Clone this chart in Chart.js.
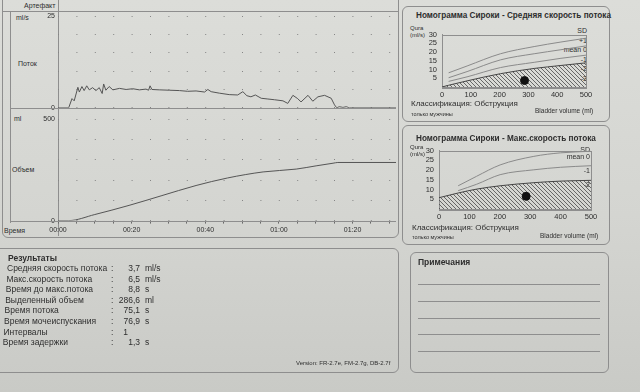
<!DOCTYPE html>
<html>
<head>
<meta charset="utf-8">
<script src="https://cdn.jsdelivr.net/npm/chart.js@4.4.0/dist/chart.umd.min.js"></script>
<style>
body{margin:0;width:640px;height:392px;overflow:hidden;position:relative;
  background:linear-gradient(#dcddd9,#d4d5d1 55%,#c9cac6);font-family:"Liberation Sans",Arial,sans-serif;color:#2e2e2e}
.t{position:absolute;white-space:nowrap;line-height:1}
.box{position:absolute;border:1px solid #8e8e8e;border-radius:6px}
.hl{position:absolute;height:0;border-top:1px solid #8e8e8e}
.vl{position:absolute;width:0;border-left:1px solid #8e8e8e}
canvas{position:absolute}
</style>
</head>
<body>

<!-- main trace panel -->
<div class="box" style="left:2px;top:-8px;width:395px;height:244px"></div>
<div class="hl" style="left:2px;top:11px;width:396px"></div>
<div class="vl" style="left:10px;top:11px;height:212px"></div>
<div class="vl" style="left:58px;top:-8px;height:244px"></div>
<div class="t" style="left:24px;top:2px;font-size:7px">Артефакт</div>
<div class="t" style="left:16px;top:14px;font-size:7px">ml/s</div>
<div class="t" style="left:18px;top:60px;font-size:7px">Поток</div>
<div class="t" style="left:14px;top:115px;font-size:7px">ml</div>
<div class="t" style="left:12px;top:166px;font-size:7px">Объем</div>
<div class="t" style="left:4px;top:227px;font-size:7px">Время</div>
<canvas id="flow" width="386" height="106" style="left:10px;top:9px"></canvas>
<canvas id="vol" width="386" height="124" style="left:10px;top:112px"></canvas>

<!-- nomogram 1 -->
<div class="box" style="left:402px;top:6px;width:206px;height:114px"></div>
<div class="t" style="left:416px;top:12px;font-size:8.2px;font-weight:bold">Номограмма Сироки - Средняя скорость потока</div>
<div class="t" style="left:410px;top:25px;font-size:6px">Qura</div>
<div class="t" style="left:410px;top:32px;font-size:6px">(ml/s)</div>
<div class="t" id="sd1" style="right:53px;top:26px;font-size:7px;text-align:right;line-height:9.5px"></div>
<canvas id="n1" width="200" height="77" style="left:402px;top:25px"></canvas>
<div class="t" style="left:411px;top:100px;font-size:8px">Классификация: Обструкция</div>
<div class="t" style="left:411px;top:112px;font-size:5.5px">только мужчины</div>
<div class="t" style="left:535px;top:108px;font-size:6.5px">Bladder volume (ml)</div>

<!-- nomogram 2 -->
<div class="box" style="left:402px;top:125px;width:206px;height:118px"></div>
<div class="t" style="left:416px;top:135px;font-size:8.2px;font-weight:bold">Номограмма Сироки - Макс.скорость потока</div>
<div class="t" style="left:410px;top:144px;font-size:6px">Qura</div>
<div class="t" style="left:410px;top:151px;font-size:6px">(ml/s)</div>
<div class="t" id="sd2" style="right:50px;top:146px;font-size:7px;text-align:right"></div>
<canvas id="n2" width="205" height="83" style="left:400px;top:141px"></canvas>
<div class="t" style="left:412px;top:224px;font-size:8px">Классификация: Обструкция</div>
<div class="t" style="left:412px;top:235px;font-size:5.5px">только мужчины</div>
<div class="t" style="left:540px;top:233px;font-size:6.5px">Bladder volume (ml)</div>

<!-- results -->
<div class="box" style="left:-6px;top:248px;width:403px;height:123px"></div>
<div class="t" style="left:8px;top:254px;font-size:8.5px;font-weight:bold">Результаты</div>
<div id="res"></div>
<div class="t" style="left:296px;top:360px;font-size:6px">Version: FR-2.7e, FM-2.7g, DB-2.7f</div>

<!-- notes -->
<div class="box" style="left:410px;top:252px;width:197px;height:119px"></div>
<div class="t" style="left:418px;top:258px;font-size:8.5px;font-weight:bold">Примечания</div>
<div class="hl" style="left:418px;top:284px;width:182px"></div>
<div class="hl" style="left:418px;top:301px;width:182px"></div>
<div class="hl" style="left:418px;top:318px;width:182px"></div>
<div class="hl" style="left:418px;top:334px;width:182px"></div>
<div class="hl" style="left:418px;top:351px;width:182px"></div>

<script>
// flow trace, seconds / ml/s
var flowT = [0, 2.9, 3.8, 4.4, 5.4, 5.8, 6.5, 7.1, 7.8, 8.5, 9.4, 10.3, 11.2, 12.0, 12.4, 13.0, 13.9, 14.9, 16.7, 18.5, 20.3, 22.1, 23.9, 24.6, 25.0, 25.5, 27.5, 30.2, 33.0, 35.2, 37.5, 39.8, 40.7, 41.6, 43.8, 46.5, 48.8, 50.2, 51.3, 52.4, 53.6, 55.2, 57.0, 58.8, 61.1, 62.4, 63.8, 65.1, 66.0, 67.9, 69.2, 70.6, 72.4, 74.2, 75.1, 75.7, 76.4, 77.4, 78.3, 79.1, 91.8];
var flowV = [0, 0, 2.5, 1.9, 5.6, 4.3, 5.8, 4.7, 6.0, 4.9, 5.5, 4.7, 5.5, 3.9, 6.5, 4.8, 5.8, 4.9, 5.3, 5.0, 5.2, 4.9, 5.1, 4.8, 6.0, 5.0, 4.9, 4.8, 4.7, 4.5, 4.6, 4.3, 5.0, 4.4, 4.0, 3.6, 3.5, 4.4, 3.3, 3.0, 3.5, 2.6, 2.4, 2.2, 1.9, 1.2, 3.4, 2.5, 1.6, 3.4, 1.8, 3.0, 3.4, 2.6, 0.8, 0, 0.3, 0.1, 0.3, 0, 0];
// volume trace, seconds / ml
var volT = [0, 2.9, 10, 19.3, 28, 37.5, 46, 55.7, 64.7, 70.1, 74.7, 76, 91.8];
var volV = [0, 0, 30, 75, 122, 173, 210, 240, 254, 270, 283, 286.6, 286.6];
var timeTicks = ['00:00', '00:20', '00:40', '01:00', '01:20'];

// Siroky nomogram, average flow (bladder volume ml / ml/s)
var avgVol = [23, 87, 203, 320, 413, 500];
var avgPlus1 = [8.1, 12, 19, 23.1, 25.7, 27.9];
var avgMean = [5.3, 8.8, 15.5, 19, 21.3, 23.5];
var avgMinus1 = [3.2, 5.8, 11.1, 14.1, 16.4, 18.2];
var avgObsVol = [0, 23, 87, 203, 320, 413, 500];
var avgMinus2 = [0, 1, 3.5, 7.6, 10.6, 12.3, 13.8];
var avgSdLabels = ['SD', '+1', 'mean 0', '-1', '-2', '-3'];

// Siroky nomogram, max flow
var maxVol = [63, 124, 201, 312, 400, 500];
var maxMean = [11.9, 16.8, 22.6, 27.0, 28.8, 29.6];
var maxMinus1 = [9.4, 12.7, 17.6, 20.1, 21.4, 22.2];
var maxObsVol = [0, 63, 124, 201, 312, 400, 500];
var maxMinus2 = [5.8, 8.2, 10.2, 11.9, 13.5, 14.3, 14.7];
var maxSdLabels = ['SD', 'mean 0', '', '-1', '', '-2'];

// patient point
var voidedVol = 286.6;
var avgFlow = 3.7;
var maxFlow = 6.5;

var resLabels = ['Средняя скорость потока', 'Макс.скорость потока', 'Время до макс.потока', 'Выделенный объем', 'Время потока', 'Время мочеиспускания', 'Интервалы', 'Время задержки'];
var resValues = ['3,7', '6,5', '8,8', '286,6', '75,1', '76,9', '1', '1,3'];
var resUnits = ['ml/s', 'ml/s', 's', 'ml', 's', 's', '', 's'];

function pts(xs, ys) {
  var out = [];
  for (var i = 0; i < xs.length; i++) out.push({x: xs[i], y: ys[i]});
  return out;
}

var html = '';
for (var i = 0; i < resLabels.length; i++) {
  var y = 264 + i * 10.6;
  html += '<div class="t" style="left:' + (7 - i * 0.6) + 'px;top:' + y + 'px;font-size:8.5px">' + resLabels[i] + '</div>';
  html += '<div class="t" style="left:111px;top:' + y + 'px;font-size:8.5px">:</div>';
  html += '<div class="t" style="left:100px;width:' + (resValues[i] === '1' ? 28 : 40) + 'px;text-align:right;top:' + y + 'px;font-size:8.5px">' + resValues[i] + '</div>';
  html += '<div class="t" style="left:145px;top:' + y + 'px;font-size:8.5px">' + resUnits[i] + '</div>';
}
document.getElementById('res').innerHTML = html;
document.getElementById('sd1').innerHTML = avgSdLabels.join('<br>');
document.getElementById('sd2').innerHTML = maxSdLabels.map(function (s) { return s || '&nbsp;'; }).join('<br>');

Chart.defaults.font.family = '"Liberation Sans", Arial, sans-serif';
Chart.defaults.color = '#2e2e2e';
Chart.defaults.animation = false;
Chart.defaults.plugins.legend.display = false;
Chart.defaults.plugins.tooltip.enabled = false;

// line across the whole canvas at the bottom of the plot
var baseLine = {
  id: 'baseLine',
  afterDraw: function (chart) {
    var c = chart.ctx, y = Math.round(chart.chartArea.bottom) + 0.5;
    c.save();
    c.strokeStyle = '#8e8e8e';
    c.lineWidth = 1;
    c.beginPath();
    c.moveTo(0, y);
    c.lineTo(chart.width, y);
    c.stroke();
    c.restore();
  }
};

var frame = {
  id: 'frame',
  beforeDatasetsDraw: function (chart) {
    var a = chart.chartArea, c = chart.ctx;
    c.save();
    c.strokeStyle = '#8e8e8e';
    c.lineWidth = 1;
    c.strokeRect(Math.round(a.left) + 0.5, Math.round(a.top) + 0.5, Math.round(a.right - a.left), Math.round(a.bottom - a.top));
    c.restore();
  }
};

function yWidth(w) { return function (s) { s.width = w; }; }

function timeLabel(v) {
  if (v % 20 !== 0) return '';
  return timeTicks[v / 20];
}

new Chart(document.getElementById('flow'), {
  type: 'line',
  data: {datasets: [{data: pts(flowT, flowV), borderColor: '#555', borderWidth: 1, pointRadius: 0, tension: 0}]},
  options: {
    responsive: false,
    layout: {padding: {top: 2, right: 0}},
    scales: {
      x: {type: 'linear', min: 0, max: 91.8, display: false},
      y: {min: 0, max: 25, afterFit: yWidth(48),
        ticks: {stepSize: 5, autoSkip: false, font: {size: 7}, padding: 3, callback: function (v) { return (v === 0 || v === 25) ? v : ''; }},
        grid: {color: '#858585', drawTicks: false}, border: {display: false, dash: [1, 17.4]}}
    }
  },
  plugins: [baseLine]
});

new Chart(document.getElementById('vol'), {
  type: 'line',
  data: {datasets: [{data: pts(volT, volV), borderColor: '#555', borderWidth: 1, pointRadius: 0, cubicInterpolationMode: 'monotone'}]},
  options: {
    responsive: false,
    layout: {padding: {top: 0, right: 0}},
    scales: {
      x: {type: 'linear', min: 0, max: 91.8,
        ticks: {stepSize: 5, includeBounds: false, autoSkip: false, maxRotation: 0, font: {size: 7}, padding: 2, callback: timeLabel},
        grid: {drawOnChartArea: false, tickLength: 3, color: '#6a6a6a'}, border: {display: false}},
      y: {min: 0, max: 500, afterFit: yWidth(48),
        ticks: {stepSize: 100, autoSkip: false, font: {size: 7}, padding: 3, callback: function (v) { return (v === 0 || v === 500) ? v : ''; }},
        grid: {color: '#858585', drawTicks: false}, border: {display: false, dash: [1, 17.4]}}
    }
  },
  plugins: [baseLine]
});

function hatch() {
  var c = document.createElement('canvas');
  c.width = c.height = 4;
  var g = c.getContext('2d');
  g.strokeStyle = '#4a4a4a';
  g.lineWidth = 0.8;
  g.beginPath();
  g.moveTo(-1, -1); g.lineTo(5, 5);
  g.moveTo(-1, 3); g.lineTo(1, 5);
  g.moveTo(3, -1); g.lineTo(5, 1);
  g.stroke();
  return g.createPattern(c, 'repeat');
}

function curve(xs, ys) {
  return {data: pts(xs, ys), borderColor: '#8a8a8a', borderWidth: 1, pointRadius: 0, cubicInterpolationMode: 'monotone', fill: false, order: 2};
}

function nomogram(id, curves, obsVol, obsFlow, px, py, yw, pad) {
  var ds = [{data: [{x: px, y: py}], showLine: false, pointRadius: 4, pointBackgroundColor: '#111', pointBorderColor: '#111', order: 0}];
  curves.forEach(function (c) { ds.push(curve(c[0], c[1])); });
  ds.push({data: pts(obsVol, obsFlow), borderColor: '#444', borderWidth: 1, pointRadius: 0, cubicInterpolationMode: 'monotone',
    fill: 'origin', backgroundColor: hatch(), order: 3});
  new Chart(document.getElementById(id), {
    type: 'line',
    data: {datasets: ds},
    options: {
      responsive: false,
      layout: {padding: pad},
      scales: {
        x: {type: 'linear', min: 0, max: 500,
          ticks: {stepSize: 100, autoSkip: false, font: {size: 7.5}, padding: 3, maxRotation: 0},
          grid: {display: false, drawTicks: false, tickLength: 0}, border: {color: '#8e8e8e'}},
        y: {min: 0, max: 30, afterFit: yWidth(yw),
          ticks: {stepSize: 5, autoSkip: false, font: {size: 7.5}, padding: 5, callback: function (v) { return v === 0 ? '' : v; }},
          grid: {display: false, drawTicks: false, tickLength: 0}, border: {color: '#8e8e8e'}}
      }
    },
    plugins: [frame]
  });
}

nomogram('n1', [[avgVol, avgPlus1], [avgVol, avgMean], [avgVol, avgMinus1]], avgObsVol, avgMinus2, voidedVol, avgFlow, 40, {top: 2, right: 16});
nomogram('n2', [[maxVol, maxMean], [maxVol, maxMinus1]], maxObsVol, maxMinus2, voidedVol, maxFlow, 39, {top: 0, right: 14});
</script>
</body>
</html>
